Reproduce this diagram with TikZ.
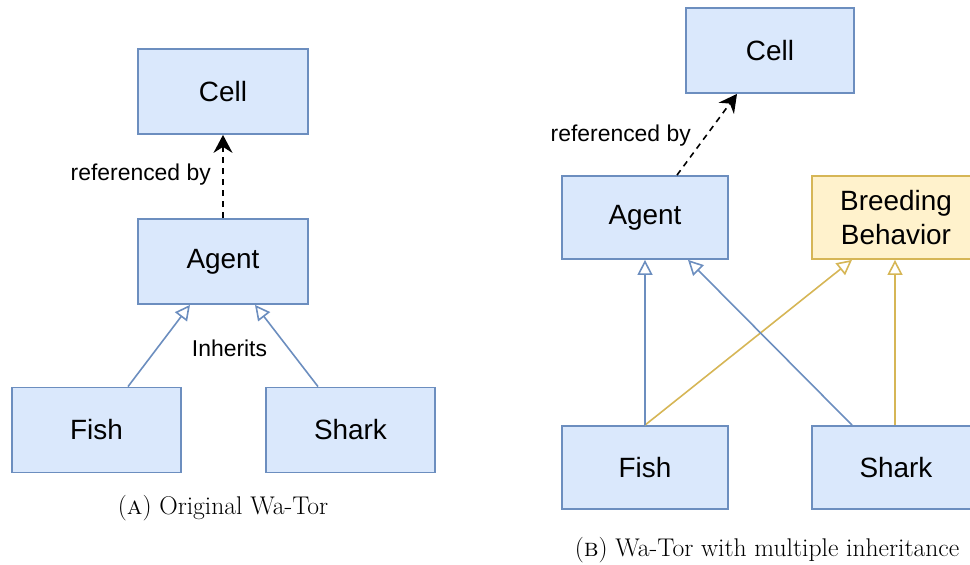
\documentclass[tikz,border=0pt]{standalone}
\usepackage{fontspec}
\newfontfamily\boxfont{Liberation Sans}
\usetikzlibrary{arrows.meta,calc}
\definecolor{bfill}{HTML}{DAE8FC}
\definecolor{bline}{HTML}{6C8EBF}
\definecolor{yfill}{HTML}{FFF2CC}
\definecolor{yline}{HTML}{D6B656}
\tikzset{
  bluebox/.style={draw=bline,fill=bfill,line width=1.8bp,minimum width=170bp,minimum height=85bp,inner sep=0pt,align=center,font=\boxfont\fontsize{28}{34}\selectfont},
  yelbox/.style={bluebox,draw=yline,fill=yfill},
  inh/.style={line width=1.6bp,-{Triangle[open,length=15bp,width=15bp,fill=white]}},
  refarrow/.style={black,line width=1.6bp,dash pattern=on 6bp off 5bp,-{Stealth[length=18bp,width=19bp,inset=6bp]}},
  lbl/.style={font=\boxfont\fontsize{23}{27}\selectfont,inner sep=0pt},
  captext/.style={font=\fontsize{25.7}{30}\selectfont,inner sep=0pt}
}
\begin{document}
\begin{tikzpicture}[x=1bp,y=-1bp]
\useasboundingbox (0,0) rectangle (970,565);
\clip (0,0) rectangle (970,565);
% (A)
\node[bluebox] (cA) at (223,91.5) {Cell};
\node[bluebox] (aA) at (223,261.5) {Agent};
\node[bluebox,minimum width=169bp] (fA) at (96.5,430) {Fish};
\node[bluebox,minimum width=169bp] (sA) at (350.5,430) {Shark};
\draw[refarrow] (aA.north) -- (cA.south);
\node[lbl,anchor=east] (refA) at (211,175) {referenced by};
\draw[inh,draw=bline] ([xshift=31.5bp]fA.north) -- ([xshift=-33bp]aA.south);
\draw[inh,draw=bline] ([xshift=-32.5bp]sA.north) -- ([xshift=32bp]aA.south);
\node[lbl] (inhA) at (229.5,348) {Inherits};
\node[captext] (capA) at (223,508) {(\textsc{a}) Original Wa-Tor};
% (B)
\node[bluebox,minimum width=168bp] (cB) at (770,50.5) {Cell};
\node[bluebox,minimum width=166bp,minimum height=83bp] (aB) at (645,217.5) {Agent};
\node[yelbox,minimum width=168bp,minimum height=83bp] (bB) at (896,217.5) {Breeding\\Behavior};
\node[bluebox,minimum width=166bp,minimum height=83bp] (fB) at (645,467.5) {Fish};
\node[bluebox,minimum width=168bp,minimum height=83bp] (sB) at (896,467.5) {Shark};
\draw[refarrow] ([xshift=32bp]aB.north) -- ([xshift=-33bp]cB.south);
\node[lbl,anchor=east] (refB) at (691,136) {referenced by};
\draw[inh,draw=yline] (fB.north) -- ([xshift=-44bp]bB.south);
\draw[inh,draw=bline] ([xshift=-44bp]sB.north) -- ([xshift=43bp]aB.south);
\draw[inh,draw=bline] (fB.north) -- (aB.south);
\draw[inh,draw=yline] ([xshift=-1bp]sB.north) -- ([xshift=-1bp]bB.south);
\node[captext] (capB) at (767,550) {(\textsc{b}) Wa-Tor with multiple inheritance};
\end{tikzpicture}
\end{document}
